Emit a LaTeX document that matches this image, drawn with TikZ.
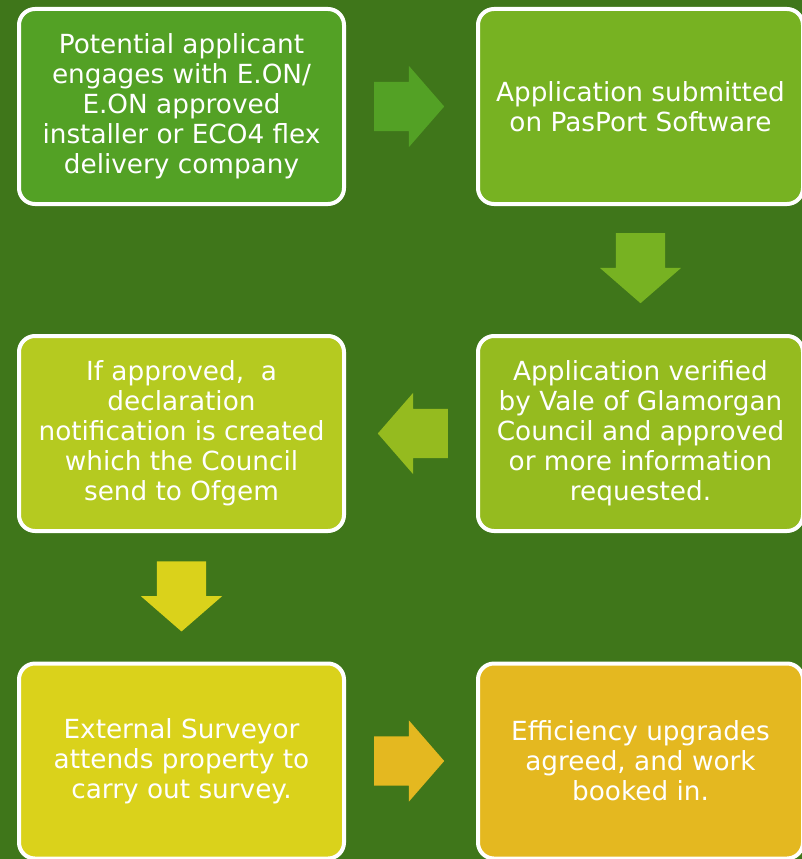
\documentclass[tikz,border=0pt]{standalone}
\usepackage{fontspec}
\setmainfont{DejaVu Sans}
\usetikzlibrary{shapes.arrows,calc}

\definecolor{bggreen}{RGB}{63,118,26}
\definecolor{stepone}{RGB}{83,161,37}
\definecolor{steptwo}{RGB}{119,178,34}
\definecolor{stepthree}{RGB}{149,187,31}
\definecolor{stepfour}{RGB}{181,202,32}
\definecolor{stepfive}{RGB}{218,210,27}
\definecolor{stepsix}{RGB}{228,184,32}

\tikzset{
  stepbox/.style={draw=white, line width=4pt, rounded corners=16pt,
    minimum width=325pt, minimum height=195pt, inner sep=0pt,
    align=center, text=white, font=\fontsize{26.3}{30}\selectfont},
  blockarrow/.style={single arrow, draw=none, inner xsep=0pt, inner ysep=24.5pt,
    minimum height=70pt, single arrow head extend=16pt, single arrow tip angle=98,
    anchor=tail}
}

\begin{document}
\begin{tikzpicture}[x=1pt,y=-1pt]

        \fill[bggreen] (0,0) rectangle (802,859);
        \useasboundingbox (0,0) rectangle (802,859);

        % the six steps
        \node[stepbox, fill=stepone]   (engage)  at (181.5,106.5) {Potential applicant\\engages with E.ON/\\E.ON approved\\installer or ECO4 flex\\delivery company};
        \node[stepbox, fill=steptwo]   (submit)  at (640.5,106.5) {Application submitted\\on PasPort Software};
        \node[stepbox, fill=stepthree] (verify)  at (640.5,433.5) {Application verified\\by Vale of Glamorgan\\Council and approved\\or more information\\requested.};
        \node[stepbox, fill=stepfour]  (declare) at (181.5,433.5) {If approved,\ \ a\\declaration\\notification is created\\which the Council\\send to Ofgem};
        \node[stepbox, fill=stepfive]  (survey)  at (181.5,761)   {External Surveyor\\attends property to\\carry out survey.};
        \node[stepbox, fill=stepsix]   (works)   at (640.5,761)   {Efficiency upgrades\\agreed, and work\\booked in.};

        % block arrows between the steps
        \node[blockarrow, fill=stepone]              (a1) at ($(engage.east)!0.5!(submit.west)+(-37,0)$) {};
        \node[blockarrow, fill=steptwo, rotate=-90]  (a2) at ($(submit.south)!0.5!(verify.north)+(0,-37)$) {};
        \node[blockarrow, fill=stepthree, rotate=180] (a3) at ($(verify.west)!0.5!(declare.east)+(37,0)$) {};
        \node[blockarrow, fill=stepfive, rotate=-90] (a4) at ($(declare.south)!0.5!(survey.north)+(0,-36)$) {};
        \node[blockarrow, fill=stepsix]              (a5) at ($(survey.east)!0.5!(works.west)+(-37,0)$) {};

\end{tikzpicture}
\end{document}
